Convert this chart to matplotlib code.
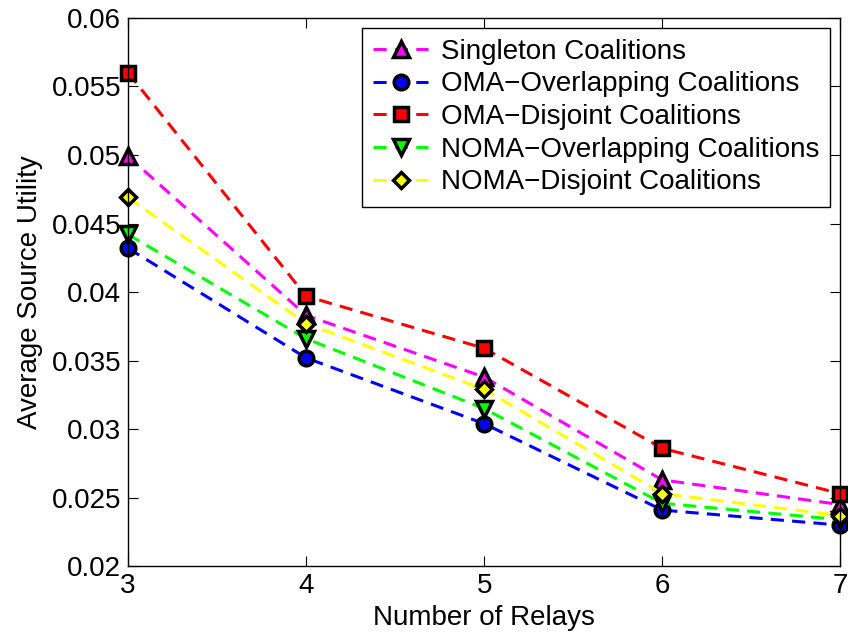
import matplotlib
matplotlib.use("Agg")
import matplotlib.pyplot as plt

plt.rcParams.update({"font.family": ["Liberation Sans", "DejaVu Sans"], "font.size": 20})

relays = [3, 4, 5, 6, 7]

singleton = [0.0499, 0.0383, 0.0338, 0.0263, 0.0245]
oma_overlap = [0.0432, 0.0352, 0.0304, 0.0241, 0.0230]
oma_disjoint = [0.0560, 0.0397, 0.0359, 0.0286, 0.0253]
noma_overlap = [0.0442, 0.0366, 0.0315, 0.0246, 0.0234]
noma_disjoint = [0.0469, 0.0377, 0.0329, 0.0253, 0.0237]

labels = ["Singleton Coalitions", "OMA\u2212Overlapping Coalitions",
          "OMA\u2212Disjoint Coalitions", "NOMA\u2212Overlapping Coalitions",
          "NOMA\u2212Disjoint Coalitions"]
series = [singleton, oma_overlap, oma_disjoint, noma_overlap, noma_disjoint]
colors = ["#ff00ff", "#0000ff", "#ff0000", "#00ff00", "#ffff00"]
markers = ["^", "o", "s", "v", "D"]
sizes = [12, 10.5, 9.5, 12, 8.5]

fig = plt.figure(figsize=(8.48, 6.37), dpi=100)
ax = fig.add_axes([0.151, 0.111, 0.840, 0.861])

for ys, lab, c, m, ms in zip(series, labels, colors, markers, sizes):
    ax.plot(relays, ys, linestyle=(0, (4.3, 2.7)), color=c, lw=2.2,
            marker=m, ms=ms, mfc=c, mec="black", mew=2.5, label=lab, clip_on=False)

ax.set_xlim(3, 7)
ax.set_ylim(0.02, 0.06)
ax.set_xticks(relays)
ax.set_yticks([0.02, 0.025, 0.03, 0.035, 0.04, 0.045, 0.05, 0.055, 0.06])
ax.set_yticklabels(["0.02", "0.025", "0.03", "0.035", "0.04", "0.045", "0.05", "0.055", "0.06"])
ax.tick_params(direction="in", top=True, right=True, length=7, width=0.8,
               labelsize=20, pad=5)
for s in ax.spines.values():
    s.set_linewidth(1.0)
ax.set_xlabel("Number of Relays", fontsize=20, labelpad=4)
ax.set_ylabel("Average Source Utility", fontsize=20, labelpad=6)

leg = ax.legend(loc="upper right", fontsize=20, handlelength=2.0, handletextpad=0.45,
                borderpad=0.4, labelspacing=0.24, borderaxespad=0.0, fancybox=False,
                framealpha=1, edgecolor="black", bbox_to_anchor=(0.986, 0.982))
leg.get_frame().set_linewidth(1.0)

fig.savefig("out.png", dpi=100)
